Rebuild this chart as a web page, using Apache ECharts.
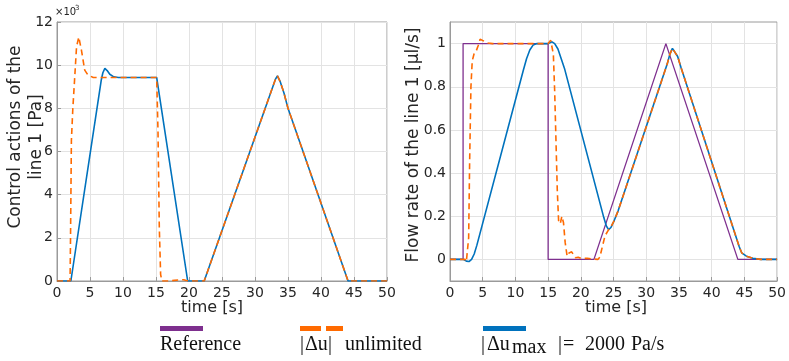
<!DOCTYPE html>
<html>
<head>
    <meta charset="UTF-8">
    <title>Control actions and flow rate of line 1</title>
    <script src="https://cdn.jsdelivr.net/npm/echarts@6/dist/echarts.min.js"></script>
    <style>
        html, body { margin: 0; padding: 0; background: #fff; }
        #chart { width: 789px; height: 361px; }
    </style>
</head>
<body>
<div id="chart"></div>

<script>
    // x axis ticks (time, s)
    var timeTicks = [0, 5, 10, 15, 20, 25, 30, 35, 40, 45, 50];

    // left: control actions of line 1, in 10^3 Pa
    var uMaxT = [0, 2.1, 6.7, 6.95, 7.25, 7.6, 8.0, 8.6, 9.3, 15.1, 19.8, 22.3, 33.1, 33.4, 33.8, 34.4, 35.0, 44.1, 50];
    var uMaxV = [0, 0, 9.3, 9.65, 9.85, 9.75, 9.58, 9.46, 9.43, 9.43, 0, 0, 9.35, 9.5, 9.25, 8.7, 8.0, 0, 0];

    var uFreeT = [0, 1.98, 2.05, 2.18, 2.4, 2.6, 2.96, 3.3, 3.7, 4.2, 4.7, 5.5, 15.1, 15.3, 15.5, 15.7, 15.9, 17.0, 17.8, 18.6, 19.2, 19.6, 20.0,
        22.3, 33.1, 33.4, 33.8, 34.4, 35.0, 44.1, 50];
    var uFreeV = [0, 0, 2.0, 6.5, 8.0, 9.0, 10.85, 11.3, 10.7, 9.77, 9.54, 9.43, 9.43, 7.0, 2.5, 0.3, 0, 0, 0.03, 0.05, 0.06, 0.02, 0,
        0, 9.35, 9.5, 9.25, 8.7, 8.0, 0, 0];

    // right: flow rate of line 1, ul/s
    var refT = [0, 2, 2, 15, 15, 22, 33, 44, 50];
    var refV = [0, 0, 1, 1, 0, 0, 1, 0, 0];

    var qMaxT = [0, 2.0, 2.5, 2.9, 3.3, 3.7, 4.1, 11.2, 11.7, 12.2, 12.7, 13.3, 15.0, 15.6, 16.0, 16.5, 17.0, 17.5, 23.5, 23.9, 24.25, 24.6,
        25.1, 25.7, 33.2, 33.6, 34.0, 34.3, 34.8, 35.3, 44.2, 44.6, 45.3, 46.3, 47.5, 50];
    var qMaxV = [0, 0, -0.008, -0.01, 0, 0.025, 0.065, 0.875, 0.93, 0.97, 0.993, 1.0, 1.0, 1.008, 1.0, 0.975, 0.93, 0.885, 0.195, 0.155, 0.138, 0.148,
        0.18, 0.225, 0.905, 0.95, 0.978, 0.975, 0.94, 0.89, 0.06, 0.03, 0.015, 0.005, 0, 0];

    var qFreeT = [0, 2.3, 2.5, 2.7, 2.85, 3.0, 3.2, 3.4, 3.7, 4.0, 4.3, 4.6, 4.9, 5.3, 5.8, 6.5, 15.0, 15.4, 15.6, 15.8, 16.0, 16.2, 16.4, 16.6,
        16.85, 17.1, 17.35, 17.6, 17.9, 18.2, 18.6, 18.9, 19.2, 19.6, 20.0, 21.0, 22.6, 22.9, 23.3, 23.7, 24.3, 24.6,
        25.1, 25.7, 33.2, 33.6, 34.0, 34.3, 34.8, 35.3, 44.2, 44.6, 45.3, 46.3, 47.5, 50];
    var qFreeV = [0, 0, -0.01, -0.005, 0.1, 0.45, 0.8, 0.92, 0.955, 0.965, 0.99, 1.02, 1.028, 1.01, 1.003, 1.0, 1.0, 1.015, 1.01, 0.95, 0.78, 0.55, 0.32, 0.18,
        0.165, 0.2, 0.17, 0.08, 0.015, 0.03, 0.035, 0.02, 0.008, 0.01, 0.005, 0.005, 0, 0.01, 0.06, 0.11, 0.14, 0.15,
        0.18, 0.225, 0.905, 0.95, 0.978, 0.975, 0.94, 0.89, 0.06, 0.03, 0.015, 0.005, 0, 0];

    var leftTicks = [0, 2, 4, 6, 8, 10, 12];
    var rightTicks = [0, 0.2, 0.4, 0.6, 0.8, 1];

    var BLUE = '#0072bd', ORANGE = '#ff6a00', PURPLE = '#7e2f8e';
    var TXT = '#262626', AXIS = '#9a9a9a', GRID = '#e3e3e3';
    var SERIF = '20px "Liberation Serif"';

    function pairs(t, v) {
        var out = [];
        for (var i = 0; i < t.length; i++) out.push([t[i], v[i]]);
        return out;
    }

    function xAxisOf(idx) {
        return {
            type: 'value', gridIndex: idx,
            min: timeTicks[0], max: timeTicks[timeTicks.length - 1], interval: timeTicks[1] - timeTicks[0],
            axisLine: {show: true, onZero: false, lineStyle: {color: AXIS, width: 1}},
            axisTick: {show: true, inside: true, length: 4, lineStyle: {color: AXIS}},
            axisLabel: {color: TXT, fontFamily: 'DejaVu Sans', fontSize: 14, margin: 5},
            splitLine: {show: true, lineStyle: {color: GRID, width: 1}}
        };
    }

    function legendText(x, y, s) {
        return {type: 'text', x: x, y: y, style: {text: s, fill: '#111', font: SERIF, align: 'left', verticalAlign: 'middle'}};
    }

    var chart = echarts.init(document.getElementById('chart'), null, {renderer: 'canvas'});
    var option = {
        animation: false,
        backgroundColor: '#fff',
        grid: [
            {left: 57, right: 402, top: 22, bottom: 80, show: true, borderColor: AXIS, borderWidth: 1, backgroundColor: '#fff'},
            {left: 450, right: 8, top: 22, bottom: 80, show: true, borderColor: AXIS, borderWidth: 1, backgroundColor: '#fff'}
        ],
        xAxis: [xAxisOf(0), xAxisOf(1)],
        yAxis: [
            {
                type: 'value', gridIndex: 0,
                min: leftTicks[0], max: leftTicks[leftTicks.length - 1], interval: leftTicks[1] - leftTicks[0],
                axisLine: {show: true, lineStyle: {color: AXIS}},
                axisTick: {show: true, inside: true, length: 4, lineStyle: {color: AXIS}},
                axisLabel: {color: TXT, fontFamily: 'DejaVu Sans', fontSize: 14, margin: 4},
                splitLine: {show: true, lineStyle: {color: GRID}}
            },
            {
                // ticks every 0.1 from -0.1, only the even ones are labelled / gridded
                type: 'value', gridIndex: 1,
                min: -0.1, max: 1.1, interval: 0.1,
                axisLine: {show: true, lineStyle: {color: AXIS}},
                axisTick: {show: false},
                axisLabel: {
                    color: TXT, fontFamily: 'DejaVu Sans', fontSize: 14, margin: 4,
                    formatter: function (v) {
                        var r = Math.round(v * 10) / 10;
                        for (var i = 0; i < rightTicks.length; i++) {
                            if (Math.abs(rightTicks[i] - r) < 1e-6) return String(rightTicks[i]);
                        }
                        return '';
                    }
                },
                splitLine: {show: true, lineStyle: {color: ['transparent', GRID]}}
            }
        ],
        series: [
            {
                name: '|Δu_max| = 2000 Pa/s', type: 'line', xAxisIndex: 0, yAxisIndex: 0,
                data: pairs(uMaxT, uMaxV), showSymbol: false, lineStyle: {color: BLUE, width: 1.6}, z: 3
            },
            {
                name: '|Δu| unlimited', type: 'line', xAxisIndex: 0, yAxisIndex: 0,
                data: pairs(uFreeT, uFreeV), showSymbol: false, lineStyle: {color: ORANGE, width: 1.6, type: [6, 4]}, z: 4
            },
            {
                name: 'Reference', type: 'line', xAxisIndex: 1, yAxisIndex: 1,
                data: pairs(refT, refV), showSymbol: false, lineStyle: {color: PURPLE, width: 1.3}, z: 2
            },
            {
                name: '|Δu_max| = 2000 Pa/s', type: 'line', xAxisIndex: 1, yAxisIndex: 1,
                data: pairs(qMaxT, qMaxV), showSymbol: false, lineStyle: {color: BLUE, width: 1.6}, z: 3
            },
            {
                name: '|Δu| unlimited', type: 'line', xAxisIndex: 1, yAxisIndex: 1,
                data: pairs(qFreeT, qFreeV), showSymbol: false, lineStyle: {color: ORANGE, width: 1.6, type: [6, 4]}, z: 4
            }
        ],
        graphic: [
            // axis names
            {type: 'text', x: 26, y: 137, rotation: Math.PI / 2, style: {
                text: 'Control actions of the\nline 1 [Pa]', fill: TXT, font: '17px "DejaVu Sans"',
                align: 'center', verticalAlign: 'middle', lineHeight: 21}},
            {type: 'text', x: 414, y: 145, rotation: Math.PI / 2, style: {
                text: 'Flow rate of the line 1 [μl/s]', fill: TXT, font: '17px "DejaVu Sans"',
                align: 'center', verticalAlign: 'middle'}},
            {type: 'text', x: 212, y: 308, style: {text: 'time [s]', fill: TXT, font: '16px "DejaVu Sans"', align: 'center', verticalAlign: 'middle'}},
            {type: 'text', x: 616, y: 308, style: {text: 'time [s]', fill: TXT, font: '16px "DejaVu Sans"', align: 'center', verticalAlign: 'middle'}},
            // exponent
            {type: 'text', x: 55, y: 12, style: {text: '×10', fill: TXT, font: '10px "DejaVu Sans"', align: 'left', verticalAlign: 'middle'}},
            {type: 'text', x: 75, y: 8, style: {text: '3', fill: TXT, font: '7px "DejaVu Sans"', align: 'left', verticalAlign: 'middle'}},
            // legend: line above, label below
            {type: 'rect', shape: {x: 160, y: 326, width: 43, height: 5}, style: {fill: PURPLE}},
            legendText(160, 345, 'Reference'),
            {type: 'rect', shape: {x: 300, y: 326, width: 21, height: 5}, style: {fill: ORANGE}},
            {type: 'rect', shape: {x: 326, y: 326, width: 17, height: 5}, style: {fill: ORANGE}},
            legendText(300, 345, '|'),
            legendText(305, 345, 'Δu'),
            legendText(328, 345, '|'),
            legendText(345, 345, 'unlimited'),
            {type: 'rect', shape: {x: 483, y: 326, width: 43, height: 5}, style: {fill: BLUE}},
            legendText(481, 345, '|'),
            legendText(487, 345, 'Δu'),
            legendText(512, 348, 'max'),
            legendText(558, 345, '|'),
            legendText(563, 345, '='),
            legendText(585, 345, '2000'),
            legendText(631, 345, 'Pa/s')
        ]
    };
    chart.setOption(option);
</script>
</body>
</html>
